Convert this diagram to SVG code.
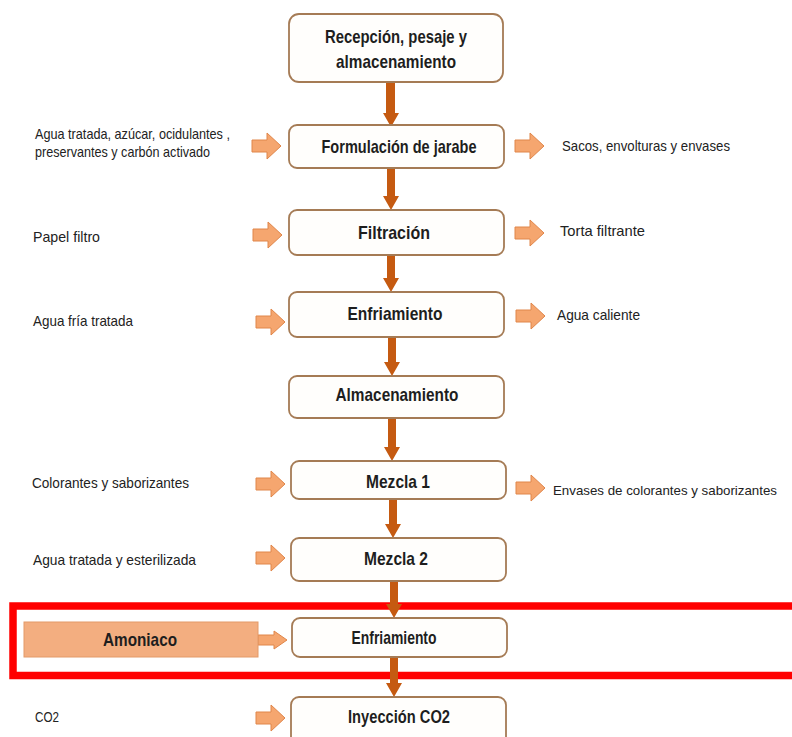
<svg xmlns="http://www.w3.org/2000/svg" width="792" height="737" viewBox="0 0 792 737">
  <style>
    .step { fill: #fffefc; stroke: #a57b55; stroke-width: 1.8; }
    .label { font-family: "Liberation Sans Narrow", "Liberation Sans", Arial, sans-serif; font-weight: bold; font-size: 19px; fill: #1e1e1e; text-anchor: middle; }
    .note { font-family: "Liberation Sans Narrow", "Liberation Sans", Arial, sans-serif; font-size: 14.5px; fill: #222; }
    .note.long { font-size: 13px; }
    .flow { fill: #c55a11; }
    .side { fill: #f5a66f; stroke: #e0864a; stroke-width: 1; }
    .highlight { fill: none; stroke: #ff0000; stroke-width: 7.5; }
  </style>
  <defs>
    <!-- block arrow pointing right, origin at the left middle -->
    <path id="blockArrow" d="M0,-6 H15 V-13 L29,0 L15,13 V6 H0 Z"/>
  </defs>

  <rect width="792" height="737" fill="#ffffff"/>

  <!-- highlight frame around the ammonia cooling step -->
  <rect class="highlight" x="13" y="606" width="800" height="69.5"/>

  <!-- main process flow -->
  <g id="connectors">
    <path class="flow" d="M386,82 V113 H383 L391,127 L399,113 H395 V82 Z"/>
    <path class="flow" d="M387,168 V196 H383 L391,210 L399,196 H395 V168 Z"/>
    <path class="flow" d="M387,255 V278 H383 L391,292 L399,278 H395 V255 Z"/>
    <path class="flow" d="M388,337 V362 H384 L392,376 L400,362 H396 V337 Z"/>
    <path class="flow" d="M388,418 V447 H384 L392,461 L400,447 H396 V418 Z"/>
    <path class="flow" d="M389,499 V524 H385 L393,538 L401,524 H397 V499 Z"/>
    <path class="flow" d="M390,581 V604 H386 L394,618 L402,604 H398 V581 Z"/>
    <path class="flow" d="M390,657 V683 H386 L394,697 L402,683 H398 V657 Z"/>

    <!-- inputs -->
    <use href="#blockArrow" class="side" x="252" y="146"/>
    <use href="#blockArrow" class="side" x="253" y="235"/>
    <use href="#blockArrow" class="side" x="256" y="322"/>
    <use href="#blockArrow" class="side" x="256" y="484"/>
    <use href="#blockArrow" class="side" x="256" y="558"/>
    <use href="#blockArrow" class="side" x="256" y="718"/>
    <path class="side" d="M258,635 H274 V631 L287,640 L274,649 V645 H258 Z"/>

    <!-- outputs -->
    <use href="#blockArrow" class="side" x="515" y="146"/>
    <use href="#blockArrow" class="side" x="515" y="233"/>
    <use href="#blockArrow" class="side" x="516" y="316"/>
    <use href="#blockArrow" class="side" x="516" y="488"/>
  </g>

  <g id="recepcion">
    <rect class="step" x="289" y="14" width="214" height="68" rx="10"/>
    <text class="label" x="396" y="43" textLength="142" lengthAdjust="spacingAndGlyphs">Recepción, pesaje y</text>
    <text class="label" x="396" y="68" textLength="120" lengthAdjust="spacingAndGlyphs">almacenamiento</text>
  </g>

  <g id="formulacion">
    <rect class="step" x="289" y="125" width="215" height="43" rx="8"/>
    <text class="label" x="399" y="153" textLength="155" lengthAdjust="spacingAndGlyphs">Formulación de jarabe</text>
  </g>

  <g id="filtracion">
    <rect class="step" x="289" y="210" width="215" height="45" rx="8"/>
    <text class="label" x="394" y="239" textLength="72" lengthAdjust="spacingAndGlyphs">Filtración</text>
  </g>

  <g id="enfriamiento1">
    <rect class="step" x="289" y="292" width="215" height="45" rx="8"/>
    <text class="label" x="395" y="320" textLength="95" lengthAdjust="spacingAndGlyphs">Enfriamiento</text>
  </g>

  <g id="almacenamiento">
    <rect class="step" x="289" y="376" width="215" height="42" rx="8"/>
    <text class="label" x="397" y="401" textLength="123" lengthAdjust="spacingAndGlyphs">Almacenamiento</text>
  </g>

  <g id="mezcla1">
    <rect class="step" x="291" y="461" width="215" height="38" rx="8"/>
    <text class="label" x="398" y="488" textLength="64" lengthAdjust="spacingAndGlyphs">Mezcla 1</text>
  </g>

  <g id="mezcla2">
    <rect class="step" x="291" y="538" width="215" height="43" rx="8"/>
    <text class="label" x="396" y="565" textLength="64" lengthAdjust="spacingAndGlyphs">Mezcla 2</text>
  </g>

  <g id="enfriamiento2">
    <rect class="step" x="292" y="618" width="215" height="39" rx="8"/>
    <text class="label" x="394" y="644" textLength="85" lengthAdjust="spacingAndGlyphs">Enfriamiento</text>
  </g>

  <g id="inyeccion">
    <rect class="step" x="291" y="697" width="215" height="52" rx="8"/>
    <text class="label" x="399" y="723" textLength="102" lengthAdjust="spacingAndGlyphs">Inyección CO2</text>
  </g>

  <g id="amoniaco">
    <rect x="24" y="622" width="234" height="35" fill="#f3ae80" stroke="#e39a69" stroke-width="1"/>
    <text class="label" x="140" y="646" textLength="74" lengthAdjust="spacingAndGlyphs">Amoniaco</text>
  </g>

  <!-- input notes -->
  <g id="inputs">
    <text class="note" x="35" y="139" textLength="195" lengthAdjust="spacingAndGlyphs">Agua tratada, azúcar, ocidulantes ,</text>
    <text class="note" x="35" y="157" textLength="175" lengthAdjust="spacingAndGlyphs">preservantes y carbón activado</text>
    <text class="note" x="33" y="242" textLength="67" lengthAdjust="spacingAndGlyphs">Papel filtro</text>
    <text class="note" x="33" y="326" textLength="100" lengthAdjust="spacingAndGlyphs">Agua fría tratada</text>
    <text class="note" x="32" y="488" textLength="157" lengthAdjust="spacingAndGlyphs">Colorantes y saborizantes</text>
    <text class="note" x="33" y="565" textLength="163" lengthAdjust="spacingAndGlyphs">Agua tratada y esterilizada</text>
    <text class="note" x="35" y="722" textLength="24" lengthAdjust="spacingAndGlyphs">CO2</text>
  </g>

  <!-- output notes -->
  <g id="outputs">
    <text class="note" x="562" y="151" textLength="168" lengthAdjust="spacingAndGlyphs">Sacos, envolturas y envases</text>
    <text class="note" x="560" y="236" textLength="85" lengthAdjust="spacingAndGlyphs">Torta filtrante</text>
    <text class="note" x="557" y="320" textLength="83" lengthAdjust="spacingAndGlyphs">Agua caliente</text>
    <text class="note long" x="553" y="495" textLength="224" lengthAdjust="spacingAndGlyphs">Envases de colorantes y saborizantes</text>
  </g>
</svg>
